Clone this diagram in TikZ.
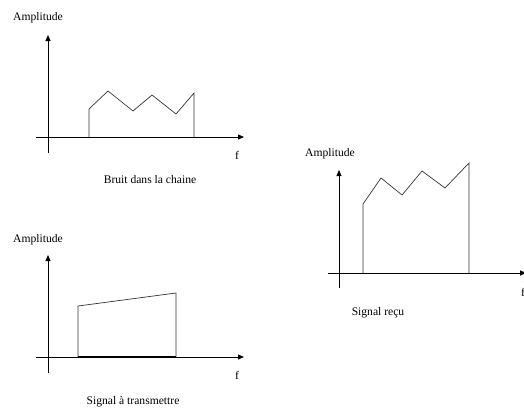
\documentclass[tikz,border=0pt]{standalone}
\usepackage{fontspec}
\setmainfont{Liberation Serif}
\usetikzlibrary{arrows.meta}
\begin{document}
\begin{tikzpicture}[x=1pt,y=-1pt,
  axis/.style={line width=0.8pt,-{Triangle[length=6pt,width=5pt]}},
  curve/.style={line width=0.7pt,draw=black!80},
  lbl/.style={font=\fontsize{11.6}{13}\selectfont,inner sep=0pt}]
\clip (0,0) rectangle (524,407);
% ---- top panel
\node[lbl] (a1) at (38,18) {Amplitude};
\coordinate (v1s) at (48,153); \coordinate (v1e) at (48,35);
\coordinate (h1s) at (36,137); \coordinate (h1e) at (244,137);
\draw[axis] (v1s) -- (v1e);
\draw[axis] (h1s) -- (h1e);
\coordinate (p1) at (89,137); \coordinate (p2) at (89,109);
\coordinate (p3) at (108,91); \coordinate (p4) at (133,111);
\coordinate (p5) at (152,95); \coordinate (p6) at (176,114);
\coordinate (p7) at (194,93); \coordinate (p8) at (194,137);
\draw[curve] (p1) -- (p2) -- (p3) -- (p4) -- (p5) -- (p6) -- (p7) -- (p8);
\node[lbl] (f1) at (237,155) {f};
\node[lbl] (t1) at (150,180) {Bruit dans la chaine};
% ---- bottom panel
\node[lbl] (a2) at (38,240) {Amplitude};
\coordinate (v2s) at (48,373); \coordinate (v2e) at (48,255);
\coordinate (h2s) at (36,357); \coordinate (h2e) at (244,357);
\draw[axis] (v2s) -- (v2e);
\draw[axis] (h2s) -- (h2e);
\coordinate (q1) at (78,357); \coordinate (q2) at (78,306);
\coordinate (q3) at (176,293); \coordinate (q4) at (176,357);
\draw[curve] (q1) -- (q2) -- (q3) -- (q4);
\draw[line width=1.2pt] (q1) -- (q4);
\node[lbl] (f2) at (237,375) {f};
\node[lbl] (t2) at (133,402) {Signal à transmettre};
% ---- right panel
\node[lbl] (a3) at (330,154) {Amplitude};
\coordinate (v3s) at (339,288); \coordinate (v3e) at (339,170);
\coordinate (h3s) at (328,273); \coordinate (h3e) at (526,273);
\draw[axis] (v3s) -- (v3e);
\draw[axis] (h3s) -- (h3e);
\coordinate (r1) at (363,273); \coordinate (r2) at (363,204);
\coordinate (r3) at (381,178); \coordinate (r4) at (402,195);
\coordinate (r5) at (422,171); \coordinate (r6) at (445,188);
\coordinate (r7) at (469,163); \coordinate (r8) at (469,273);
\draw[curve] (r1) -- (r2) -- (r3) -- (r4) -- (r5) -- (r6) -- (r7) -- (r8);
\node[lbl] (f3) at (523,292) {f};
\node[lbl] (t3) at (378,313) {Signal reçu};
\end{tikzpicture}
\end{document}
